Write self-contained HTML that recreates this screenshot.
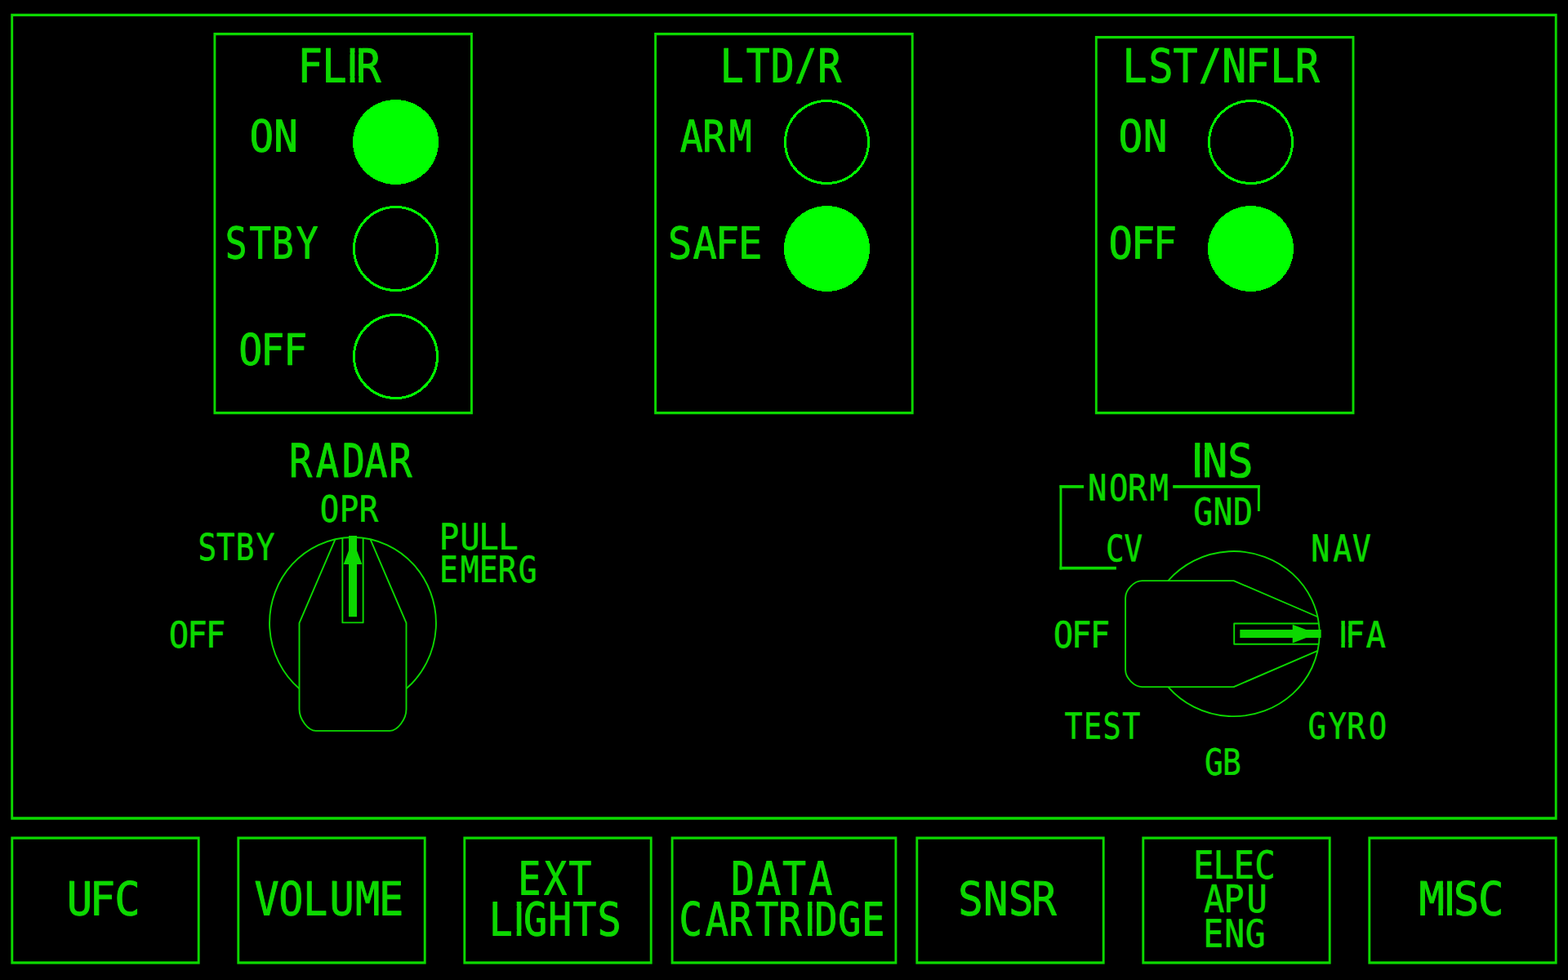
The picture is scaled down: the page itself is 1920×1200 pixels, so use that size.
<!DOCTYPE html>
<html lang="en"><head><meta charset="utf-8"><title>SNSR</title>
<style>html,body{margin:0;padding:0;background:#000;overflow:hidden}svg{display:block}text{font-family:'DejaVu Sans Mono', 'Liberation Mono', monospace;fill:#0cd800;stroke:#0cd800;stroke-linejoin:round;stroke-linecap:round;white-space:pre;text-rendering:geometricPrecision}</style></head><body>
<svg xmlns="http://www.w3.org/2000/svg" width="1920" height="1200" viewBox="0 0 1920 1200">
<rect width="1920" height="1200" fill="#000"/>
<g id="frames">
<path fill="#0cd800" fill-rule="evenodd" d="M13.25 16.65H1906.65V1003.65H13.25ZM16.15 19.95H1903.75V1000.35H16.15Z"/>
<path fill="#0cd800" fill-rule="evenodd" d="M261.45 40.05H578.90V507.35H261.45ZM264.35 43.35H576.00V504.05H264.35Z"/>
<path fill="#0cd800" fill-rule="evenodd" d="M801.15 40.05H1118.65V507.35H801.15ZM804.05 43.35H1115.75V504.05H804.05Z"/>
<path fill="#0cd800" fill-rule="evenodd" d="M1340.85 44.00H1658.45V507.35H1340.85ZM1343.75 47.30H1655.55V504.05H1343.75Z"/>
<path fill="#0cd800" fill-rule="evenodd" d="M13.35 1024.45H244.65V1180.45H13.35ZM16.25 1027.75H241.75V1177.15H16.25Z"/>
<path fill="#0cd800" fill-rule="evenodd" d="M290.35 1024.45H521.65V1180.45H290.35ZM293.25 1027.75H518.75V1177.15H293.25Z"/>
<path fill="#0cd800" fill-rule="evenodd" d="M567.35 1024.45H798.65V1180.45H567.35ZM570.25 1027.75H795.75V1177.15H570.25Z"/>
<path fill="#0cd800" fill-rule="evenodd" d="M821.65 1024.45H1098.35V1180.45H821.65ZM824.55 1027.75H1095.45V1177.15H824.55Z"/>
<path fill="#0cd800" fill-rule="evenodd" d="M1121.35 1024.45H1352.65V1180.45H1121.35ZM1124.25 1027.75H1349.75V1177.15H1124.25Z"/>
<path fill="#0cd800" fill-rule="evenodd" d="M1398.35 1024.45H1629.65V1180.45H1398.35ZM1401.25 1027.75H1626.75V1177.15H1401.25Z"/>
<path fill="#0cd800" fill-rule="evenodd" d="M1675.35 1024.45H1906.65V1180.45H1675.35ZM1678.25 1027.75H1903.75V1177.15H1678.25Z"/>
</g>
<g id="lamps" shape-rendering="crispEdges">
<ellipse cx="484.5" cy="174.0" rx="52.5" ry="52.0" fill="#00ff00"/>
<ellipse cx="484.5" cy="304.5" rx="51" ry="51.0" fill="none" stroke="#00ff00" stroke-width="3"/>
<ellipse cx="484.5" cy="436.5" rx="51" ry="51.0" fill="none" stroke="#00ff00" stroke-width="3"/>
<ellipse cx="1012.5" cy="174.0" rx="51" ry="50.5" fill="none" stroke="#00ff00" stroke-width="3"/>
<ellipse cx="1012.5" cy="304.5" rx="52.5" ry="52.5" fill="#00ff00"/>
<ellipse cx="1531.5" cy="174.0" rx="51" ry="50.5" fill="none" stroke="#00ff00" stroke-width="3"/>
<ellipse cx="1531.5" cy="304.5" rx="52.5" ry="52.5" fill="#00ff00"/>
</g>
<g transform="translate(432.00 762.90) rotate(0)" fill="none" stroke="#0cd800" stroke-width="1.9" stroke-linejoin="round"><path d="M-65.50 80.39 A101.95 104.90 0 1 1 65.50 80.39"/><path d="M-21.50 -102.54 L-65.50 0 L-65.50 105.40 C-65.50 117.90 -54.79 132.00 -45.30 132.00 L45.30 132.00 C54.79 132.00 65.50 117.90 65.50 105.40 L65.50 0 L21.50 -102.54"/><path d="M-12.65 -104.09 L-12.65 -0.50 L12.65 -0.50 L12.65 -104.09"/><path stroke="none" fill="#0cd800" d="M-5 -7.6 L-5 -72 L-11.4 -72 L-5 -88.7 L-5 -107 L5 -107 L5 -88.7 L11.4 -72 L5 -72 L5 -7.6 Z"/></g>
<g transform="translate(1510.70 776.10) rotate(90)" fill="none" stroke="#0cd800" stroke-width="1.9" stroke-linejoin="round"><path d="M-65.00 80.39 A101.05 105.00 0 1 1 65.00 80.39"/><path d="M-20.85 -102.74 L-65.00 0 L-65.00 112.30 C-65.00 121.84 -53.98 132.60 -44.20 132.60 L44.20 132.60 C53.98 132.60 65.00 121.84 65.00 112.30 L65.00 0 L20.85 -102.74"/><path d="M-12.65 -104.17 L-12.65 -0.50 L12.65 -0.50 L12.65 -104.17"/><path stroke="none" fill="#0cd800" d="M-5 -7.6 L-5 -72 L-11.4 -72 L-5 -88.7 L-5 -107 L5 -107 L5 -88.7 L11.4 -72 L5 -72 L5 -7.6 Z"/></g>
<g id="bracket" fill="#0cd800">
<rect x="1297.50" y="594.05" width="29.50" height="3.70"/>
<rect x="1297.50" y="594.10" width="2.90" height="103.40"/>
<rect x="1297.50" y="693.80" width="69.40" height="3.70"/>
<rect x="1436.20" y="594.05" width="106.60" height="3.70"/>
<rect x="1539.90" y="594.10" width="2.90" height="31.90"/>
</g>
<defs><clipPath id="c1"><path clip-rule="evenodd" d="M367.88 56.05H469.03V102.40H367.88ZM419.05 55.05H428.59V66.49H419.05ZM434.51 55.05H444.05V58.55H434.51ZM434.51 58.55H439.45V66.49H434.51ZM419.05 93.31H428.59V95.31H419.05ZM422.50 95.31H428.59V101.31H422.50ZM419.05 101.31H428.59V103.40H419.05ZM434.51 93.31H439.45V101.31H434.51ZM434.51 101.31H444.05V103.40H434.51Z"/></clipPath><clipPath id="c2"><path clip-rule="evenodd" d="M884.39 56.05H1032.56V102.40H884.39Z"/></clipPath><clipPath id="c3"><path clip-rule="evenodd" d="M1377.25 56.05H1618.17V102.40H1377.25Z"/></clipPath><clipPath id="c4"><path clip-rule="evenodd" d="M1453.27 539.55H1533.63V585.90H1453.27ZM1453.47 538.55H1463.21V549.99H1453.47ZM1469.29 538.55H1479.03V542.05H1469.29ZM1469.29 542.05H1475.44V549.99H1469.29ZM1453.47 576.81H1463.21V586.90H1453.47ZM1469.29 576.81H1475.44V584.81H1469.29ZM1469.29 584.81H1479.03V586.90H1469.29Z"/></clipPath><clipPath id="c5"><path clip-rule="evenodd" d="M1634.10 757.66H1698.57V794.26H1634.10ZM1634.30 756.66H1642.32V766.48H1634.30ZM1646.88 756.66H1654.90V760.16H1646.88ZM1646.88 760.16H1651.49V766.48H1646.88ZM1634.30 786.79H1642.32V795.26H1634.30ZM1646.88 786.79H1651.49V793.29H1646.88ZM1646.88 793.29H1654.90V795.26H1646.88Z"/></clipPath><clipPath id="c6"><path clip-rule="evenodd" d="M601.38 1101.15H760.03V1147.40H601.38ZM623.51 1100.15H632.72V1111.57H623.51ZM638.38 1100.15H647.59V1107.65H638.38ZM638.38 1107.65H647.47V1108.15H638.38ZM638.38 1108.15H647.09V1108.65H638.38ZM638.38 1108.65H646.76V1109.15H638.38ZM638.38 1109.15H646.48V1109.65H638.38ZM638.38 1109.65H646.19V1110.15H638.38ZM638.38 1110.15H645.91V1110.65H638.38ZM638.38 1110.65H645.67V1111.15H638.38ZM638.38 1111.15H645.48V1111.57H638.38ZM623.51 1138.32H632.72V1140.32H623.51ZM625.84 1140.32H632.72V1146.32H625.84ZM623.51 1146.32H632.72V1148.40H623.51ZM638.38 1138.32H645.39V1138.82H638.38ZM638.38 1138.82H645.62V1139.32H638.38ZM638.38 1139.32H645.86V1139.82H638.38ZM638.38 1139.82H646.14V1140.32H638.38ZM638.38 1140.32H646.43V1140.82H638.38ZM638.38 1140.82H646.71V1141.32H638.38ZM638.38 1141.32H647.04V1141.82H638.38ZM638.38 1141.82H647.38V1142.32H638.38ZM638.38 1142.32H647.59V1148.40H638.38Z"/></clipPath><clipPath id="c7"><path clip-rule="evenodd" d="M832.38 1101.15H1082.69V1147.40H832.38ZM979.94 1100.15H988.95V1111.57H979.94ZM994.45 1100.15H1003.46V1103.65H994.45ZM994.45 1103.65H1000.20V1111.57H994.45ZM979.94 1138.32H988.95V1140.32H979.94ZM980.05 1140.32H988.95V1140.82H980.05ZM980.28 1140.82H988.95V1141.32H980.28ZM980.46 1141.32H988.95V1141.82H980.46ZM980.69 1141.82H988.95V1142.32H980.69ZM980.88 1142.32H988.95V1142.82H980.88ZM981.11 1142.82H988.95V1143.32H981.11ZM981.29 1143.32H988.95V1143.82H981.29ZM981.52 1143.82H988.95V1144.32H981.52ZM981.75 1144.32H988.95V1146.32H981.75ZM979.94 1146.32H988.95V1148.40H979.94ZM994.45 1138.32H1000.20V1146.32H994.45ZM994.45 1146.32H1003.46V1148.40H994.45Z"/></clipPath><clipPath id="c8"><path clip-rule="evenodd" d="M1737.13 1075.86H1839.87V1122.41H1737.13ZM1762.17 1074.86H1771.95V1078.36H1762.17ZM1766.79 1078.36H1771.95V1086.33H1766.79ZM1778.05 1074.86H1787.83V1079.86H1778.05ZM1778.05 1079.86H1787.47V1080.36H1778.05ZM1778.05 1080.36H1786.86V1080.86H1778.05ZM1778.05 1080.86H1786.30V1081.36H1778.05ZM1778.05 1081.36H1785.84V1081.86H1778.05ZM1778.05 1081.86H1785.43V1082.36H1778.05ZM1778.05 1082.36H1785.07V1082.86H1778.05ZM1778.05 1082.86H1784.72V1083.36H1778.05ZM1778.05 1083.36H1784.46V1083.86H1778.05ZM1778.05 1083.86H1784.21V1084.36H1778.05ZM1778.05 1084.36H1783.95V1084.86H1778.05ZM1778.05 1084.86H1783.80V1085.36H1778.05ZM1778.05 1085.36H1783.60V1085.86H1778.05ZM1778.05 1085.86H1783.49V1086.33H1778.05ZM1766.79 1113.28H1771.95V1121.28H1766.79ZM1762.17 1121.28H1771.95V1123.41H1762.17ZM1778.05 1113.28H1783.49V1119.78H1778.05ZM1778.05 1119.78H1784.56V1120.28H1778.05ZM1778.05 1120.28H1785.89V1120.78H1778.05ZM1778.05 1120.78H1787.42V1121.28H1778.05ZM1778.05 1121.28H1787.83V1123.41H1778.05Z"/></clipPath></defs>
<g id="labels">
<g clip-path="url(#c1)"><text transform="translate(418 100.50) scale(0.8963 1) skewY(0.05)" font-size="56.52" stroke-width="1.00" x="-59.62 -26.60 -1.87 20.18" y="0">FLIR</text></g>
<g clip-path="url(#c2)"><text transform="translate(958 100.50) scale(0.8519 1) skewY(0.05)" font-size="56.52" stroke-width="1.00" x="-89.50 -52.08 -16.80 15.99 50.66" y="0">LTD/R</text></g>
<g clip-path="url(#c3)"><text transform="translate(1497 100.50) scale(0.8829 1) skewY(0.05)" font-size="56.52" stroke-width="1.00" x="-138.79 -102.41 -68.54 -34.85 -0.82 31.39 66.03 100.44" y="0">LST/NFLR</text></g>
<text transform="translate(431 584.00) scale(0.8300 1) skewY(0.05)" font-size="56.52" stroke-width="1.00" x="-92.78 -53.34 -14.86 18.41 54.51" y="0">RADAR</text>
<g clip-path="url(#c4)"><text transform="translate(1498 584.00) scale(0.9200 1) skewY(0.05)" font-size="56.52" stroke-width="1.00" x="-51.50 -28.15 5.76" y="0">INS</text></g>
<text transform="translate(335 185.50) scale(0.9200 1) skewY(0.05)" font-size="53.63" stroke-width="0.90" x="-32.01 0.16" y="0">ON</text>
<text transform="translate(333 316.50) scale(0.8300 1) skewY(0.05)" font-size="53.63" stroke-width="0.90" x="-69.03 -33.49 -0.31 35.96" y="0">STBY</text>
<text transform="translate(334 446.75) scale(0.9097 1) skewY(0.05)" font-size="52.98" stroke-width="0.88" x="-45.96 -16.19 14.70" y="0">OFF</text>
<text transform="translate(877 185.75) scale(0.8700 1) skewY(0.05)" font-size="53.50" stroke-width="0.90" x="-50.99 -19.24 18.23" y="0">ARM</text>
<text transform="translate(876 316.50) scale(0.9060 1) skewY(0.05)" font-size="53.76" stroke-width="0.91" x="-64.03 -30.37 -0.38 30.79" y="0">SAFE</text>
<text transform="translate(1399 185.50) scale(0.9200 1) skewY(0.05)" font-size="53.63" stroke-width="0.90" x="-31.96 0.87" y="0">ON</text>
<text transform="translate(1399 316.50) scale(0.9079 1) skewY(0.05)" font-size="53.76" stroke-width="0.91" x="-45.65 -15.45 14.18" y="0">OFF</text>
<text transform="translate(428 638.75) scale(0.8808 1) skewY(0.05)" font-size="44.33" stroke-width="0.58" x="-41.22 -14.00 13.26" y="0">OPR</text>
<text transform="translate(290 685.75) scale(0.8317 1) skewY(0.05)" font-size="45.12" stroke-width="0.61" x="-57.21 -30.11 -1.58 28.50" y="0">STBY</text>
<text transform="translate(241 792.75) scale(0.9200 1) skewY(0.05)" font-size="44.20" stroke-width="0.58" x="-37.27 -12.88 11.79" y="0">OFF</text>
<text transform="translate(587 672.75) scale(0.9200 1) skewY(0.05)" font-size="44.20" stroke-width="0.58" x="-53.54 -25.69 -0.92 25.33" y="0">PULL</text>
<text transform="translate(598 712.75) scale(0.8586 1) skewY(0.05)" font-size="44.20" stroke-width="0.58" x="-69.92 -39.81 -13.14 13.69 42.95" y="0">EMERG</text>
<text transform="translate(1382 612.75) scale(0.8805 1) skewY(0.05)" font-size="44.20" stroke-width="0.58" x="-56.75 -27.22 -1.22 28.91" y="0">NORM</text>
<text transform="translate(1498 642.50) scale(0.8739 1) skewY(0.05)" font-size="45.58" stroke-width="0.62" x="-42.06 -14.29 13.69" y="0">GND</text>
<text transform="translate(1376 687.25) scale(0.8395 1) skewY(0.05)" font-size="44.73" stroke-width="0.59" x="-26.10 0.47" y="0">CV</text>
<text transform="translate(1641 687.25) scale(0.8479 1) skewY(0.05)" font-size="45.31" stroke-width="0.62" x="-42.09 -10.40 17.38" y="0">NAV</text>
<g clip-path="url(#c5)"><text transform="translate(1669 792.75) scale(0.9200 1) skewY(0.05)" font-size="44.20" stroke-width="0.58" x="-39.81 -24.08 3.87" y="0">IFA</text></g>
<text transform="translate(1650 904.50) scale(0.8445 1) skewY(0.05)" font-size="44.20" stroke-width="0.58" x="-57.42 -27.84 -0.76 30.36" y="0">GYRO</text>
<text transform="translate(1498 948.75) scale(0.8524 1) skewY(0.05)" font-size="44.33" stroke-width="0.58" x="-27.07 -1.23" y="0">GB</text>
<text transform="translate(1350 904.50) scale(0.8310 1) skewY(0.05)" font-size="44.20" stroke-width="0.58" x="-55.90 -27.80 0.73 29.05" y="0">TEST</text>
<text transform="translate(1324 792.75) scale(0.9200 1) skewY(0.05)" font-size="44.20" stroke-width="0.58" x="-37.35 -12.99 11.71" y="0">OFF</text>
<text transform="translate(126 1120.50) scale(0.9200 1) skewY(0.05)" font-size="56.78" stroke-width="1.01" x="-48.06 -17.72 15.43" y="0">UFC</text>
<text transform="translate(404 1120.50) scale(0.8852 1) skewY(0.05)" font-size="56.78" stroke-width="1.01" x="-104.48 -70.75 -37.24 -0.64 34.90 67.85" y="0">VOLUME</text>
<text transform="translate(680 1095.50) scale(0.8300 1) skewY(0.05)" font-size="56.38" stroke-width="1.00" x="-55.23 -16.72 19.65" y="0">EXT</text>
<g clip-path="url(#c6)"><text transform="translate(681 1145.50) scale(0.8602 1) skewY(0.05)" font-size="56.38" stroke-width="1.00" x="-95.66 -69.78 -46.60 -11.57 23.54 58.83" y="0">LIGHTS</text></g>
<text transform="translate(958 1095.50) scale(0.8569 1) skewY(0.05)" font-size="56.38" stroke-width="1.00" x="-73.59 -35.82 -0.05 37.70" y="0">DATA</text>
<g clip-path="url(#c7)"><text transform="translate(957 1145.50) scale(0.8367 1) skewY(0.05)" font-size="56.38" stroke-width="1.00" x="-149.89 -111.40 -77.21 -38.31 -4.42 24.53 48.03 82.60 117.00" y="0">CARTRIDGE</text></g>
<text transform="translate(1235 1120.50) scale(0.8899 1) skewY(0.05)" font-size="56.78" stroke-width="1.01" x="-69.35 -34.85 -0.01 31.78" y="0">SNSR</text>
<text transform="translate(1512 1075.75) scale(0.9006 1) skewY(0.05)" font-size="47.08" stroke-width="0.68" x="-56.63 -29.50 -1.66 26.87" y="0">ELEC</text>
<text transform="translate(1512 1117.00) scale(0.9083 1) skewY(0.05)" font-size="46.43" stroke-width="0.65" x="-41.83 -15.06 15.93" y="0">APU</text>
<text transform="translate(1512 1159.50) scale(0.8899 1) skewY(0.05)" font-size="46.43" stroke-width="0.65" x="-43.44 -14.37 14.26" y="0">ENG</text>
<g clip-path="url(#c8)"><text transform="translate(1788 1120.50) scale(0.9198 1) skewY(0.05)" font-size="56.78" stroke-width="1.01" x="-55.01 -31.20 -9.10 23.97" y="0">MISC</text></g>
</g>
</svg></body></html>
